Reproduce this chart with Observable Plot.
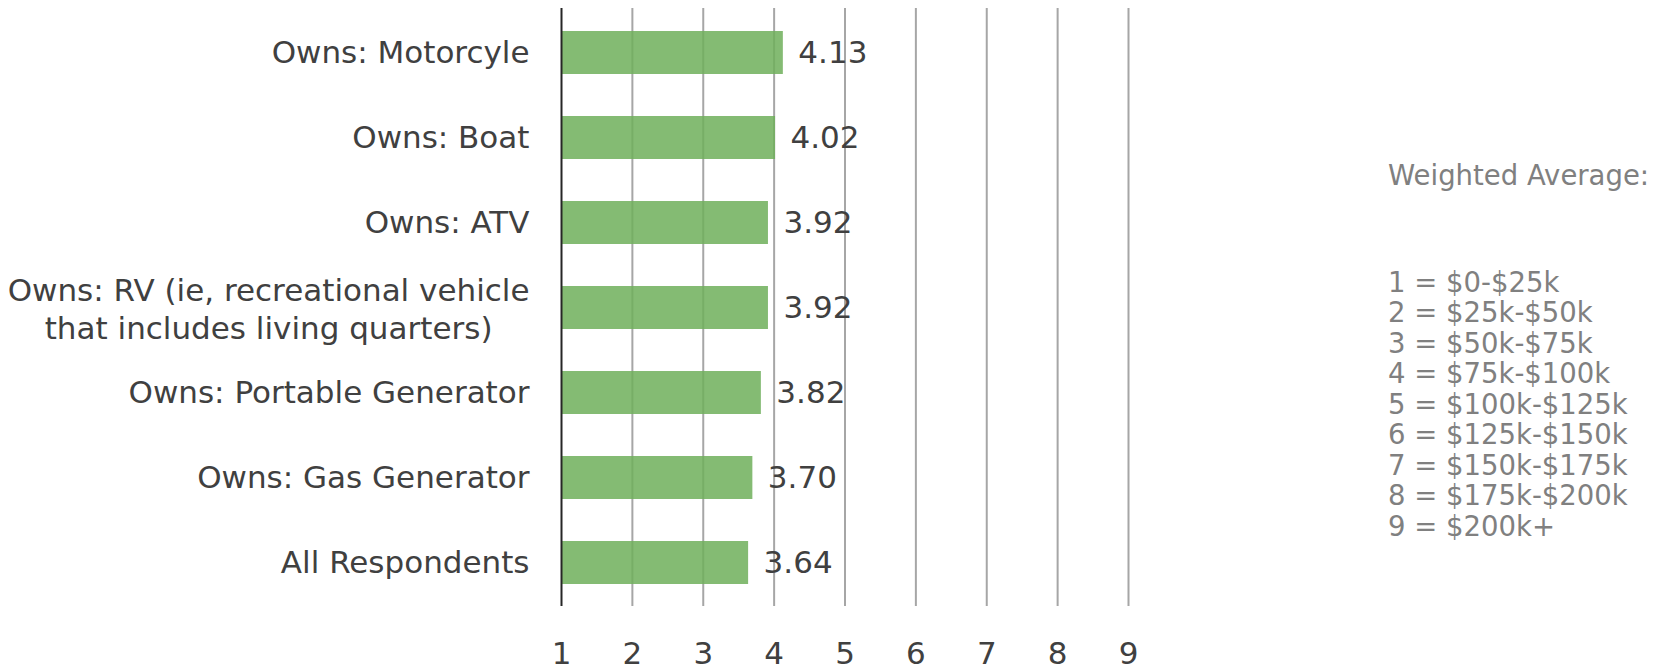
<!DOCTYPE html>
<html>
<head>
<meta charset="utf-8">
<script src="https://cdn.jsdelivr.net/npm/d3@7"></script>
<script src="https://cdn.jsdelivr.net/npm/@observablehq/plot@0.6"></script>
<style>
  html, body { margin: 0; padding: 0; background: #fff; }
  #wrap { position: relative; width: 1657px; height: 670px; font-family: "DejaVu Sans", sans-serif; }
  #legend { position: absolute; left: 1388px; top: 160px; color: #808080; font-size: 27.5px; line-height: 30.5px; white-space: nowrap; }
  #legend .title { margin-bottom: 76px; }
</style>
</head>
<body>
<div id="wrap">
  <div id="chart"></div>
  <div id="legend"></div>
</div>
<script>
const categories = [
  "Owns: Motorcyle",
  "Owns: Boat",
  "Owns: ATV",
  "Owns: RV (ie, recreational vehicle\nthat includes living quarters)",
  "Owns: Portable Generator",
  "Owns: Gas Generator",
  "All Respondents"
];
const values = [4.13, 4.02, 3.92, 3.92, 3.82, 3.70, 3.64];
const xTicks = [1, 2, 3, 4, 5, 6, 7, 8, 9];
const legendTitle = "Weighted Average:";
const legendItems = [
  "1 = $0-$25k",
  "2 = $25k-$50k",
  "3 = $50k-$75k",
  "4 = $75k-$100k",
  "5 = $100k-$125k",
  "6 = $125k-$150k",
  "7 = $150k-$175k",
  "8 = $175k-$200k",
  "9 = $200k+"
];

const FONT = '"DejaVu Sans", sans-serif';
const FS = 31;
const data = categories.map((c, i) => ({category: c, value: values[i]}));
const single = categories.filter(c => !c.includes("\n"));
const multi = categories.filter(c => c.includes("\n"));

// measure widest line of multi-line labels so they can be centered like the original
const ctx = document.createElement("canvas").getContext("2d");
ctx.font = `${FS}px ${FONT}`;
const labelPad = 32;
const multiData = multi.map(c => {
  const w = Math.max(...c.split("\n").map(s => ctx.measureText(s).width));
  return {category: c, dx: -labelPad - w / 2};
});

const chart = Plot.plot({
  width: 1657,
  height: 670,
  marginLeft: 561,
  marginRight: 529,
  marginTop: 8,
  marginBottom: 64,
  style: {fontFamily: FONT, background: "#fff"},
  x: {domain: [1, 9]},
  y: {domain: categories, paddingInner: 0.5, paddingOuter: 0.25, axis: null},
  marks: [
    Plot.ruleX(xTicks.filter(d => d !== 1), {stroke: "#a6a6a6", strokeWidth: 2}),
    Plot.barX(data, {x1: 1, x2: "value", y: "category", fill: "#6eaf5b", fillOpacity: 0.85}),
    Plot.ruleX([1], {stroke: "#262626", strokeWidth: 2}),
    Plot.text(data, {x: "value", y: "category", text: d => d.value.toFixed(2), textAnchor: "start", dx: 15, fontSize: FS, fill: "#404040"}),
    Plot.axisX(xTicks, {tickSize: 0, tickPadding: 35, fontSize: FS, color: "#404040", label: null, tickFormat: d => String(d)}),
    Plot.text(single, {x: 1, y: d => d, text: d => d, textAnchor: "end", dx: -labelPad, fontSize: FS, fill: "#404040"}),
    ...multiData.map(m => Plot.text([m], {x: 1, y: "category", text: "category", textAnchor: "middle", dx: m.dx, fontSize: FS, fill: "#404040", lineHeight: 1.2}))
  ]
});
document.getElementById("chart").appendChild(chart);

const legend = document.getElementById("legend");
const t = document.createElement("div");
t.className = "title";
t.textContent = legendTitle;
legend.appendChild(t);
for (const item of legendItems) {
  const d = document.createElement("div");
  d.textContent = item;
  legend.appendChild(d);
}
</script>
</body>
</html>
